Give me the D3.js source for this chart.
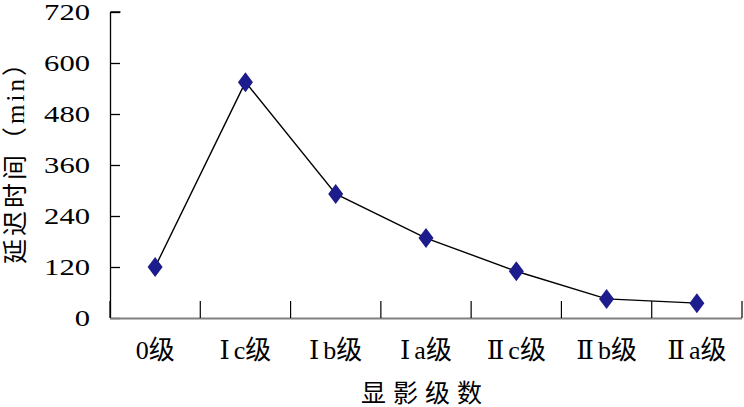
<!DOCTYPE html>
<html><head><meta charset="utf-8">
<script src="https://cdn.jsdelivr.net/npm/d3@7"></script>
<style>body{margin:0;background:#fff}svg{display:block}
text{font-family:"Liberation Serif","Times New Roman","DejaVu Serif","Noto Sans CJK SC",serif;fill:#000}</style>
</head><body>
<svg id="c" width="744" height="407"></svg>
<script>
const categories = ["0级","Ⅰc级","Ⅰb级","Ⅰa级","Ⅱc级","Ⅱb级","Ⅱa级"];
const delays = [120, 555, 292, 188, 110, 45, 35];
const yTicks = [0,120,240,360,480,600,720];
const xTitle = "显影级数";
const yTitle = "延迟时间（min）";

(function(){
const svg = d3.select("#c");
const mL = 110, mR = 742, mT = 12, mB = 318;
const x = d3.scaleBand().domain(categories).range([mL, mR]);
const y = d3.scaleLinear().domain([0,720]).range([mB, mT]);

// Y axis
const ya = svg.append("g").attr("transform",`translate(${mL},0)`)
  .call(d3.axisRight(y).tickValues(yTicks).tickSize(10).tickFormat(""));
ya.select(".domain").attr("d",`M0.5,${mT}H10.5M0.5,${mT}V${mB}`).attr("stroke","#000").attr("stroke-width",1.3);
ya.selectAll(".tick line").attr("stroke","#000").attr("stroke-width",1.3);
svg.append("g").selectAll("text").data(yTicks).join("text")
  .attr("x",90).attr("y",d=>y(d)).attr("dy","0.33em")
  .attr("text-anchor","end").attr("font-size",23)
  .attr("textLength",d=>String(d).length*15.3).attr("lengthAdjust","spacingAndGlyphs")
  .text(d=>d);

// X axis
const xa = svg.append("g").attr("transform",`translate(0,${mB})`);
xa.append("line").attr("x1",mL).attr("x2",mR).attr("y1",0.5).attr("y2",0.5)
  .attr("stroke","#808080").attr("stroke-width",2);
const bounds = categories.map(c=>x(c)+x.bandwidth()).concat([mL]);
xa.selectAll("line.t").data(bounds).join("line").attr("class","t")
  .attr("x1",d=>d).attr("x2",d=>d).attr("y1",0).attr("y2",-17)
  .attr("stroke","#000").attr("stroke-width",1.2);
const xl = svg.append("g").selectAll("text").data(categories).join("text")
  .attr("x",d=>x(d)+x.bandwidth()/2).attr("y",359)
  .attr("text-anchor","middle").attr("font-size",26);
xl.each(function(d){
  const m = d.match(/^([ⅠⅡ]?)(.*)$/);
  const t = d3.select(this);
  if (m[1]) {
    t.append("tspan").text(m[1]);
    t.append("tspan").attr("dx",4).text(m[2]);
  } else t.text(d);
});

// titles
svg.append("text").attr("x",425).attr("y",402).attr("text-anchor","middle")
  .attr("font-size",25).attr("letter-spacing",7).text(xTitle);
svg.append("text").attr("transform",`translate(24,156) rotate(-90)`).attr("text-anchor","middle")
  .attr("font-size",25).attr("letter-spacing",3).text(yTitle);

// line
const cx = d => x(d)+x.bandwidth()/2;
svg.append("path").datum(delays.map((v,i)=>[cx(categories[i]),y(v)]))
  .attr("d",d3.line()).attr("fill","none").attr("stroke","#000").attr("stroke-width",1.4);
svg.append("g").selectAll("path").data(delays).join("path")
  .attr("transform",(d,i)=>`translate(${cx(categories[i])},${y(d)})`)
  .attr("d","M0,-10L7.5,0L0,10L-7.5,0Z").attr("fill","#1c1c8c");
})();
</script>
</body></html>
